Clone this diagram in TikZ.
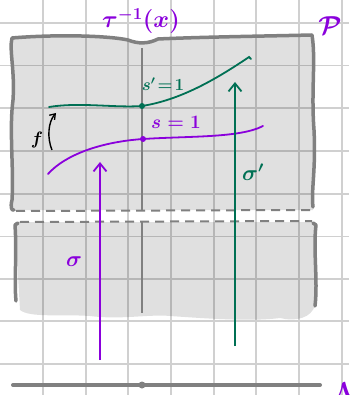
\RequirePackage{fix-cm}
\documentclass[tikz,border=0pt]{standalone}
\usetikzlibrary{arrows.meta}
\definecolor{vio}{RGB}{138,0,220}
\definecolor{grn}{RGB}{0,112,84}
\definecolor{bord}{RGB}{128,128,128}
\definecolor{gridc}{RGB}{208,208,208}
\begin{document}
\begin{tikzpicture}[x=1pt,y=-1pt,
  gridline/.style={gridc,line width=1.8pt},
  border/.style={bord,line width=3.5pt,line cap=round,line join=round},
  dashline/.style={bord,line width=2pt,dash pattern=on 9pt off 6pt},
  axisline/.style={bord,line width=1.4pt},
  region/.style={fill=black,fill opacity=0.12,draw=none},
  curve/.style={line width=1.8pt,line cap=round},
  flow/.style={line width=1.8pt,-{Straight Barb[length=8pt,width=13pt,line width=1.8pt]}},
  lab/.style={inner sep=0pt}]
\fill[white] (0,0) rectangle (349,395);
\useasboundingbox (0,0) rectangle (349,395);
% grid
\foreach \x in {43,85.7,128.3,171,213.7,256.3,299,341.7} \draw[gridline] (\x,0) -- (\x,395);
\foreach \y in {23,65.5,108,151,194,236.5,279,321,364} \draw[gridline] (0,\y) -- (349,\y);
% upper region
\fill[region] (12,36) .. controls (60,34) and (110,36) .. (128,40) .. controls (138,44) and (148,44) .. (158,39)
  .. controls (200,37) and (270,36) .. (313,35) -- (313,210) -- (12,210) -- cycle;
% lower region
\fill[region] (15,222) -- (315,222) -- (315,305) .. controls (312,318) and (295,322) .. (280,318)
  .. controls (250,322) and (200,318) .. (170,316) .. controls (150,314) and (120,320) .. (90,316)
  .. controls (60,314) and (30,318) .. (20,310) -- cycle;
% borders
\draw[border] (14,210) .. controls (12,211) and (10,208) .. (12,200) .. controls (14,170) and (9,130) .. (13,100)
  .. controls (15,70) and (9,50) .. (12,38) .. controls (60,34) and (110,36) .. (128,40)
  .. controls (138,44) and (148,44) .. (158,39) .. controls (200,37) and (270,36) .. (312,35)
  .. controls (316,60) and (311,90) .. (314,130) .. controls (316,170) and (311,190) .. (313,207);
\draw[border] (16,301) .. controls (14,280) and (17,255) .. (15,225) -- (18,223);
\draw[border] (313,223) -- (316,225) .. controls (313,250) and (318,280) .. (315,306);
% dashed cut lines
\draw[dashline] (16,211) -- (312,210);
\draw[dashline] (20,222) -- (312,221);
% fibre over x
\coordinate (ftop) at (142,48);
\coordinate (fmid) at (142,210);
\coordinate (fmid2) at (142,222);
\coordinate (fbot) at (142,313);
\draw[axisline] (ftop) -- (fmid);
\draw[axisline] (fmid2) -- (fbot);
% green section s'=1
\coordinate (gA) at (49,107);
\coordinate (gX) at (142,106);
\coordinate (gB) at (249,57);
\draw[grn,curve] (gA) .. controls (80,102) and (115,108) .. (gX) .. controls (180,100) and (215,80) .. (gB) -- (251,59);
\fill[grn] (gX) circle (3pt);
\node[lab,grn,font=\fontsize{17}{20}\selectfont\boldmath] (sp) at (163,84) {$s'\!=\!1$};
% purple section s=1
\coordinate (pA) at (48,174);
\coordinate (pX) at (143,139);
\coordinate (pB) at (263,126);
\draw[vio,curve] (pA) .. controls (65,155) and (100,142) .. (pX) .. controls (190,136) and (240,138) .. (pB);
\fill[vio] (pX) circle (3pt);
\node[lab,vio,font=\fontsize{19}{22}\selectfont\boldmath] (sl) at (176,122) {$s=1$};
% flows
\coordinate (g0) at (235,346);
\coordinate (g1) at (235,82);
\draw[grn,flow] (g0) -- (g1);
\node[lab,grn,font=\fontsize{22}{24}\selectfont\boldmath] (sgp) at (253,172) {$\sigma'$};
\coordinate (p0) at (100,360);
\coordinate (p1) at (100,162);
\draw[vio,flow] (p0) -- (p1);
\node[lab,vio,font=\fontsize{22}{24}\selectfont\boldmath] (sg) at (74,262) {$\sigma$};
% f arrow
\coordinate (f0) at (52,150);
\coordinate (f1) at (56,113);
\draw[black,line width=1.4pt,-{Straight Barb[length=5pt,width=7pt,line width=1.3pt]}] (f0) .. controls (47,138) and (48,122) .. (f1);
\node[lab,black,font=\fontsize{18}{20}\selectfont\boldmath] (fl) at (37,140) {$f$};
% labels
\node[lab,vio,font=\fontsize{24}{28}\selectfont\boldmath] (tau) at (141,21) {$\tau^{-1}(x)$};
\node[lab,vio,font=\fontsize{26}{30}\selectfont\boldmath] (P) at (330,26) {$\mathcal{P}$};
% base
\coordinate (b0) at (13,385);
\coordinate (b1) at (320,385);
\draw[bord,line width=4pt,line cap=round] (b0) -- (b1);
\fill[bord] (142,385) circle (3.5pt);
\node[lab,vio,anchor=west,font=\fontsize{26}{30}\selectfont\boldmath] (M) at (332,392) {$\mathcal{M}$};
\end{tikzpicture}
\end{document}
